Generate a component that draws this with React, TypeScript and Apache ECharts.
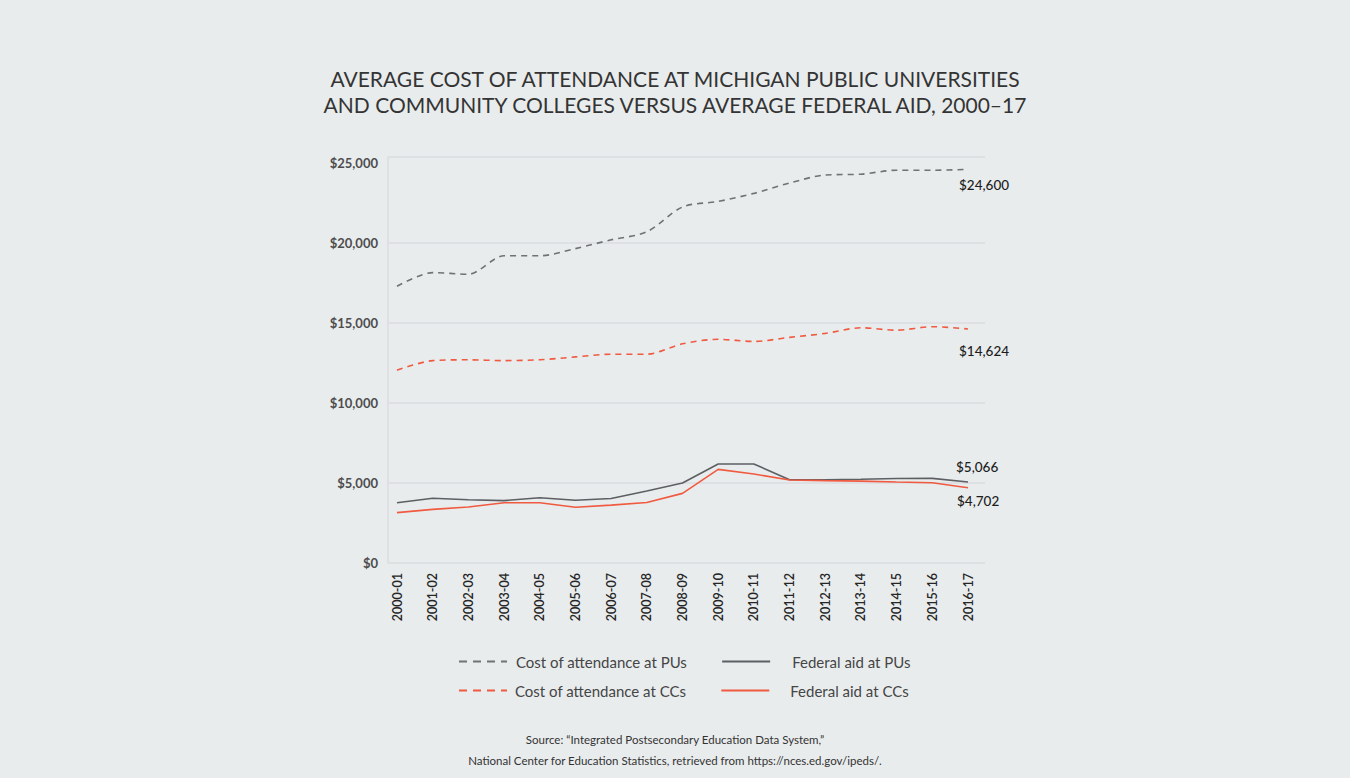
import React, { useEffect, useRef } from "react";
import * as echarts from "echarts";

const categories = [
  "2000-01", "2001-02", "2002-03", "2003-04", "2004-05", "2005-06", "2006-07", "2007-08", "2008-09",
  "2009-10", "2010-11", "2011-12", "2012-13", "2013-14", "2014-15", "2015-16", "2016-17",
];
const costPU = [17300, 18150, 18050, 19200, 19200, 19650, 20200, 20700, 22250, 22600, 23100, 23750, 24250, 24300, 24550, 24550, 24600];
const costCC = [12050, 12650, 12700, 12650, 12700, 12880, 13050, 13050, 13700, 13980, 13850, 14100, 14350, 14700, 14550, 14770, 14624];
const aidPU = [3770, 4050, 3950, 3900, 4080, 3920, 4030, 4500, 5000, 6190, 6190, 5200, 5200, 5230, 5280, 5290, 5066];
const aidCC = [3150, 3350, 3500, 3770, 3770, 3480, 3620, 3780, 4350, 5850, 5560, 5190, 5150, 5120, 5060, 5020, 4702];
const yTicks = [0, 5000, 10000, 15000, 20000, 25000];

const seriesNames = ["Cost of attendance at PUs", "Federal aid at PUs", "Cost of attendance at CCs", "Federal aid at CCs"];

const GREY_DASH = "#707276";
const GREY = "#5d5f63";
const RED = "#f05a40";
const BG = "#e9eced";
const FONT = "Lato, 'Noto Sans', sans-serif";

const fmtMoney = (v: number) => "$" + v.toLocaleString("en-US");

export default function App() {
  const ref = useRef<HTMLDivElement>(null);
  useEffect(() => {
    if (!ref.current) return;
    const chart = echarts.init(ref.current, null, { renderer: "svg" });
    const endLabel = (offset: number[]) => ({
      show: true,
      formatter: (p: any) => fmtMoney(p.value),
      offset,
      color: "#1c1c1c",
      fontSize: 13.5,
      fontFamily: FONT,
      fontWeight: 500,
    });
    const gridLine = "#dadddf";
    const legendBase = {
      left: 458,
      padding: 0,
      itemWidth: 48,
      itemHeight: 14,
      itemGap: 34,
      itemStyle: { opacity: 0 },
      textStyle: { fontFamily: FONT, fontSize: 15, color: "#454545" },
    };
    chart.setOption({
      animation: false,
      backgroundColor: BG,
      textStyle: { fontFamily: FONT },
      title: [
        {
          text: "AVERAGE COST OF ATTENDANCE AT MICHIGAN PUBLIC UNIVERSITIES\nAND COMMUNITY COLLEGES VERSUS AVERAGE FEDERAL AID, 2000–17",
          left: "center",
          top: 60,
          textStyle: {
            fontFamily: FONT,
            fontSize: 21,
            fontWeight: 400,
            color: "#343434",
            lineHeight: 26,
            align: "center",
          },
        },
        {
          text: "Source: “Integrated Postsecondary Education Data System,”\nNational Center for Education Statistics, retrieved from https://nces.ed.gov/ipeds/.",
          left: "center",
          top: 724,
          textStyle: {
            fontFamily: FONT,
            fontSize: 11.5,
            fontWeight: 400,
            color: "#333",
            lineHeight: 21,
            align: "center",
          },
        },
      ],
      legend: [
        {
          ...legendBase,
          top: 654,
          data: [
            { name: seriesNames[0], lineStyle: { type: [8, 6] }, textStyle: { padding: [0, 0, 0, 4] } },
            { name: seriesNames[1], textStyle: { padding: [0, 0, 0, 17] } },
          ],
        },
        {
          ...legendBase,
          top: 683,
          data: [
            { name: seriesNames[2], lineStyle: { type: [8, 6] }, textStyle: { padding: [0, 0, 0, 3] } },
            { name: seriesNames[3], textStyle: { padding: [0, 0, 0, 16] } },
          ],
        },
      ],
      grid: [
        { left: 388, right: 365, top: 157, bottom: 215 },
        { left: 397, right: 382, top: 157, bottom: 215 },
      ],
      xAxis: [
        { type: "value", gridIndex: 0, min: 0, max: 1, show: false },
        {
          type: "category",
          gridIndex: 1,
          data: categories,
          boundaryGap: false,
          axisLine: { show: false },
          axisTick: { show: false },
          axisLabel: {
            rotate: 90,
            margin: 10,
            interval: 0,
            fontFamily: FONT,
            fontSize: 12.5,
            fontWeight: 600,
            color: "#262626",
          },
        },
      ],
      yAxis: [
        {
          type: "value",
          gridIndex: 0,
          min: 0,
          max: 25375,
          interval: 5000,
          axisLine: { show: true, lineStyle: { color: gridLine, width: 1.5 } },
          axisTick: { show: false },
          axisLabel: {
            margin: 10,
            fontFamily: FONT,
            fontSize: 13,
            fontWeight: 700,
            color: "#4d4d4d",
            formatter: (v: number) => (yTicks.includes(v) ? fmtMoney(v) : ""),
          },
          splitLine: {
            show: true,
            lineStyle: {
              width: 1.5,
              color: [gridLine, gridLine, gridLine, gridLine, gridLine, "rgba(0,0,0,0)", gridLine],
            },
          },
        },
        { type: "value", gridIndex: 1, min: 0, max: 25375, show: false },
      ],
      series: [
        {
          name: seriesNames[0],
          type: "line",
          xAxisIndex: 1,
          yAxisIndex: 1,
          data: costPU,
          symbol: "none",
          smooth: 0.3,
          lineStyle: { color: GREY_DASH, width: 1.6, type: [6, 5] },
          itemStyle: { color: GREY_DASH },
          endLabel: endLabel([-17, 16]),
        },
        {
          name: seriesNames[1],
          type: "line",
          xAxisIndex: 1,
          yAxisIndex: 1,
          data: aidPU,
          symbol: "none",
          lineStyle: { color: GREY, width: 1.6 },
          itemStyle: { color: GREY },
          endLabel: endLabel([-20, -15]),
        },
        {
          name: seriesNames[2],
          type: "line",
          xAxisIndex: 1,
          yAxisIndex: 1,
          data: costCC,
          symbol: "none",
          smooth: 0.3,
          lineStyle: { color: RED, width: 1.6, type: [6, 5] },
          itemStyle: { color: RED },
          endLabel: endLabel([-17, 22]),
        },
        {
          name: seriesNames[3],
          type: "line",
          xAxisIndex: 1,
          yAxisIndex: 1,
          data: aidCC,
          symbol: "none",
          lineStyle: { color: RED, width: 1.6 },
          itemStyle: { color: RED },
          endLabel: endLabel([-19, 13]),
        },
      ],
    });
    return () => chart.dispose();
  }, []);
  return (
    <div
      ref={ref}
      style={{ position: "absolute", left: 0, top: 0, width: 1350, height: 778, background: BG }}
    />
  );
}
